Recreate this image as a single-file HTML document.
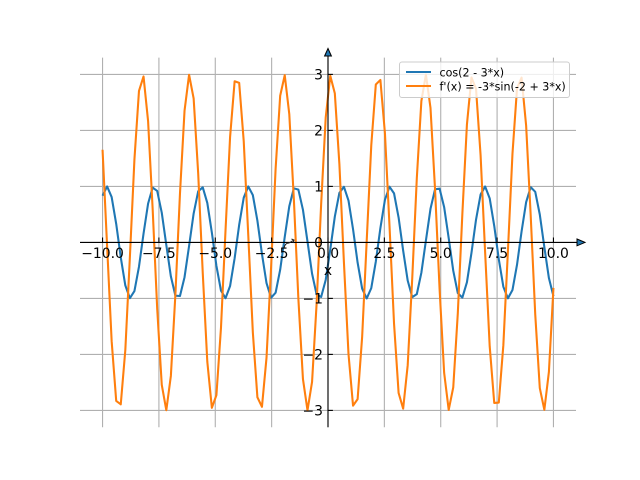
<!DOCTYPE html>
<html><head><meta charset="utf-8"><style>
html,body{margin:0;padding:0;background:#fff;}
svg{display:block;font-family:"DejaVu Sans","Liberation Sans",sans-serif;}
</style></head><body>
<svg id="s" width="640" height="480" viewBox="0 0 640 480" xmlns="http://www.w3.org/2000/svg">
<rect width="640" height="480" fill="#fff"/>
<g stroke="#b0b0b0" stroke-width="1.1">
<line x1="102.55" y1="57.6" x2="102.55" y2="427.2"/>
<line x1="158.91" y1="57.6" x2="158.91" y2="427.2"/>
<line x1="215.27" y1="57.6" x2="215.27" y2="427.2"/>
<line x1="271.64" y1="57.6" x2="271.64" y2="427.2"/>
<line x1="328" y1="57.6" x2="328" y2="427.2"/>
<line x1="384.36" y1="57.6" x2="384.36" y2="427.2"/>
<line x1="440.73" y1="57.6" x2="440.73" y2="427.2"/>
<line x1="497.09" y1="57.6" x2="497.09" y2="427.2"/>
<line x1="553.45" y1="57.6" x2="553.45" y2="427.2"/>
<line x1="80" y1="74.4" x2="576" y2="74.4"/>
<line x1="80" y1="130.4" x2="576" y2="130.4"/>
<line x1="80" y1="186.4" x2="576" y2="186.4"/>
<line x1="80" y1="242.4" x2="576" y2="242.4"/>
<line x1="80" y1="298.4" x2="576" y2="298.4"/>
<line x1="80" y1="354.4" x2="576" y2="354.4"/>
<line x1="80" y1="410.4" x2="576" y2="410.4"/>
</g>
<polyline id="pb" fill="none" stroke="#1f77b4" stroke-width="2.08" stroke-linejoin="round" points=""/>
<polyline id="po" fill="none" stroke="#ff7f0e" stroke-width="2.08" stroke-linejoin="round" points=""/>
<g stroke="#000" stroke-width="1.1">
<line x1="80" y1="242.4" x2="578" y2="242.4"/>
<line x1="328" y1="427.2" x2="328" y2="55"/>
<line x1="102.55" y1="237.5" x2="102.55" y2="242.4"/>
<line x1="158.91" y1="237.5" x2="158.91" y2="242.4"/>
<line x1="215.27" y1="237.5" x2="215.27" y2="242.4"/>
<line x1="271.64" y1="237.5" x2="271.64" y2="242.4"/>
<line x1="328" y1="237.5" x2="328" y2="242.4"/>
<line x1="384.36" y1="237.5" x2="384.36" y2="242.4"/>
<line x1="440.73" y1="237.5" x2="440.73" y2="242.4"/>
<line x1="497.09" y1="237.5" x2="497.09" y2="242.4"/>
<line x1="553.45" y1="237.5" x2="553.45" y2="242.4"/>
<line x1="328" y1="74.4" x2="332.9" y2="74.4"/>
<line x1="328" y1="130.4" x2="332.9" y2="130.4"/>
<line x1="328" y1="186.4" x2="332.9" y2="186.4"/>
<line x1="328" y1="242.4" x2="332.9" y2="242.4"/>
<line x1="328" y1="298.4" x2="332.9" y2="298.4"/>
<line x1="328" y1="354.4" x2="332.9" y2="354.4"/>
<line x1="328" y1="410.4" x2="332.9" y2="410.4"/>
</g>
<polygon points="577,239 585,242.4 577,245.8" fill="#1f77b4" stroke="#000" stroke-width="1"/>
<polygon points="324.6,56 328,48.5 331.4,56" fill="#1f77b4" stroke="#000" stroke-width="1"/>
<path d="M284,248 Q285,243 289,243 L294,240 M291.5,239 L294,240 L293,243" fill="none" stroke="#222" stroke-width="1"/>
<g font-size="13.9" fill="#000" text-anchor="middle">
<text x="102.55" y="258">−10.0</text>
<text x="158.91" y="258">−7.5</text>
<text x="215.27" y="258">−5.0</text>
<text x="271.64" y="258">−2.5</text>
<text x="328" y="258">0.0</text>
<text x="384.36" y="258">2.5</text>
<text x="440.73" y="258">5.0</text>
<text x="497.09" y="258">7.5</text>
<text x="553.45" y="258">10.0</text>
<text x="328" y="275">x</text>
</g>
<g font-size="13.9" fill="#000" text-anchor="end">
<text x="323" y="79.4">3</text>
<text x="323" y="135.4">2</text>
<text x="323" y="191.4">1</text>
<text x="323" y="247.4">0</text>
<text x="323" y="303.4">−1</text>
<text x="323" y="359.4">−2</text>
<text x="323" y="415.4">−3</text>
</g>
<rect x="399.5" y="62" width="170" height="35.5" rx="2.5" fill="#fff" fill-opacity="0.8" stroke="#cccccc" stroke-width="1"/>
<line x1="406" y1="72" x2="431" y2="72" stroke="#1f77b4" stroke-width="2.08"/>
<line x1="406" y1="86" x2="431" y2="86" stroke="#ff7f0e" stroke-width="2.08"/>
<g font-size="11.1" fill="#000">
<text x="439.5" y="76.5">cos(2 - 3*x)</text>
<text x="439.5" y="90.5">f'(x) = -3*sin(-2 + 3*x)</text>
</g>
</svg>
<script>
(function(){
  function pts(f){
    var s='';
    for(var i=0;i<100;i++){
      var x=-10+i*20/99;
      var X=328+x*496/22;
      var Y=242.4-f(x)*56;
      s+=X.toFixed(2)+','+Y.toFixed(2)+' ';
    }
    return s;
  }
  document.getElementById('pb').setAttribute('points',pts(function(x){return Math.cos(2-3*x);}));
  document.getElementById('po').setAttribute('points',pts(function(x){return -3*Math.sin(-2+3*x);}));
})();
</script>
</body></html>
